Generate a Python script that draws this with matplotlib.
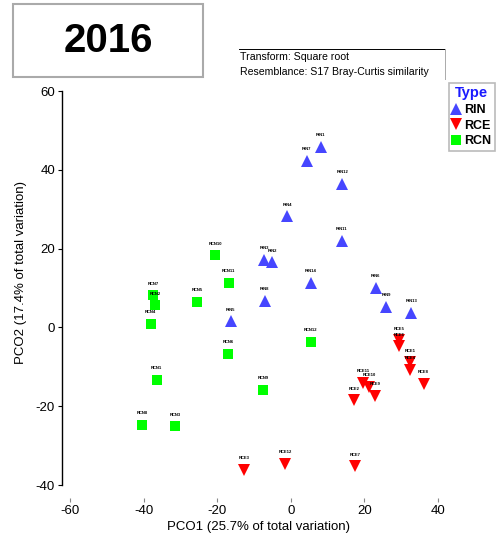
import matplotlib.pyplot as plt
import numpy as np

plt.rcParams['font.family'] = ['Liberation Sans', 'DejaVu Sans']
plt.rcParams['axes.unicode_minus'] = False

# PCO scores per group
rin_x = [8.2, 4.4, 14.0, -0.9, 13.9, -7.3, -5.0, 5.4, -7.1, -16.3, 23.1, 26.0, 32.8]
rin_y = [45.9, 42.2, 36.4, 28.2, 22.0, 17.2, 16.5, 11.3, 6.8, 1.5, 10.0, 5.3, 3.6]
rin_names = ['RIN1', 'RIN7', 'RIN12', 'RIN4', 'RIN11', 'RIN3', 'RIN2', 'RIN14', 'RIN8',
             'RIN5', 'RIN6', 'RIN9', 'RIN13']

rce_x = [29.4, 29.5, 32.6, 32.6, 36.2, 19.7, 21.3, 23.0, 17.2, -12.7, -1.6, 17.6]
rce_y = [-3.3, -4.8, -8.9, -10.7, -14.4, -14.1, -15.1, -17.3, -18.5, -36.1, -34.6, -35.3]
rce_names = ['RCE5', 'RCE6', 'RCE1', 'RCE4', 'RCE8', 'RCE11', 'RCE10', 'RCE9', 'RCE2',
             'RCE3', 'RCE12', 'RCE7']

rcn_x = [-38.1, -36.5, -40.5, -31.4, -17.1, -7.5, 5.4, -20.5, -16.9, -25.4, -37.5, -37.0]
rcn_y = [0.9, -13.3, -24.7, -25.1, -6.8, -15.8, -3.6, 18.3, 11.3, 6.5, 8.1, 5.6]
rcn_names = ['RCN4', 'RCN1', 'RCN8', 'RCN3', 'RCN6', 'RCN9', 'RCN12', 'RCN10', 'RCN11',
             'RCN5', 'RCN7', 'RCN2']

fig = plt.figure(figsize=(5.02, 5.37), dpi=100)
ax = fig.add_axes([62 / 502, 52 / 537, 394 / 502, 394 / 537])

groups = [
    ('RIN', rin_x, rin_y, rin_names, '^', '#4646FF'),
    ('RCE', rce_x, rce_y, rce_names, 'v', '#FF0000'),
    ('RCN', rcn_x, rcn_y, rcn_names, 's', '#00FF00'),
]
for name, xs, ys, labels, mk, col in groups:
    ax.plot(xs, ys, linestyle='none', marker=mk, markersize=8.5 if mk != 's' else 7.5,
            color=col, markeredgewidth=0, label=name)
    for x, y, lab in zip(xs, ys, labels):
        ax.annotate(lab, (x, y), xytext=(0, 7), textcoords='offset points',
                    ha='center', va='bottom', fontsize=3, fontweight='bold')

ax.set_xlim(-62.3, 45)
ax.set_ylim(-40, 60)
ax.set_xticks([-60, -40, -20, 0, 20, 40])
ax.set_yticks([-40, -20, 0, 20, 40, 60])

for s in ['top', 'right']:
    ax.spines[s].set_visible(False)
ax.spines['bottom'].set_position(('outward', 9))
ax.spines['bottom'].set_visible(False)
ax.spines['left'].set_linewidth(1.0)
ax.tick_params(axis='y', length=3, width=0.8, pad=2, labelsize=9.5)
ax.tick_params(axis='x', length=3, width=0.8, color='#888888', pad=2.5, labelsize=9.5)

ax.set_xlabel('PCO1 (25.7% of total variation)', fontsize=9.5, labelpad=3)
ax.set_ylabel('PCO2 (17.4% of total variation)', fontsize=9.5)
ax.yaxis.set_label_coords(-0.09, 0.54)

# legend box
leg = ax.legend(title='Type', loc='upper left', bbox_to_anchor=(449 / 502, 1 - 83 / 537),
                bbox_transform=fig.transFigure, frameon=True, fancybox=False,
                prop={'size': 9, 'weight': 'bold'}, handlelength=0.6, handletextpad=0.4,
                borderpad=0.25, labelspacing=0.3, borderaxespad=0)
leg.get_title().set_color('#1a1aff')
leg.get_title().set_fontweight('bold')
leg.get_title().set_fontsize(10.5)
leg.get_frame().set_edgecolor('#aaaaaa')
leg.get_frame().set_linewidth(1.2)

# year box
fig.add_artist(plt.Rectangle((13 / 502, 1 - 77 / 537), 190 / 502, 73 / 537,
                             transform=fig.transFigure, facecolor='white',
                             edgecolor='#aaaaaa', linewidth=1.5))
fig.text(108 / 502, 1 - 41 / 537, '2016', fontsize=29, fontweight='bold',
         ha='center', va='center')

# transform note
fig.text(240 / 502, 1 - 57 / 537, 'Transform: Square root', fontsize=7.6,
         ha='left', va='center')
fig.text(240 / 502, 1 - 72 / 537, 'Resemblance: S17 Bray-Curtis similarity', fontsize=7.6,
         ha='left', va='center')
fig.add_artist(plt.Line2D([239 / 502, 445 / 502], [1 - 49 / 537, 1 - 49 / 537],
                          color='black', linewidth=0.7))
fig.add_artist(plt.Line2D([445 / 502, 445 / 502], [1 - 49 / 537, 1 - 79 / 537],
                          color='#aaaaaa', linewidth=0.7))

fig.savefig('out.png', dpi=100)
